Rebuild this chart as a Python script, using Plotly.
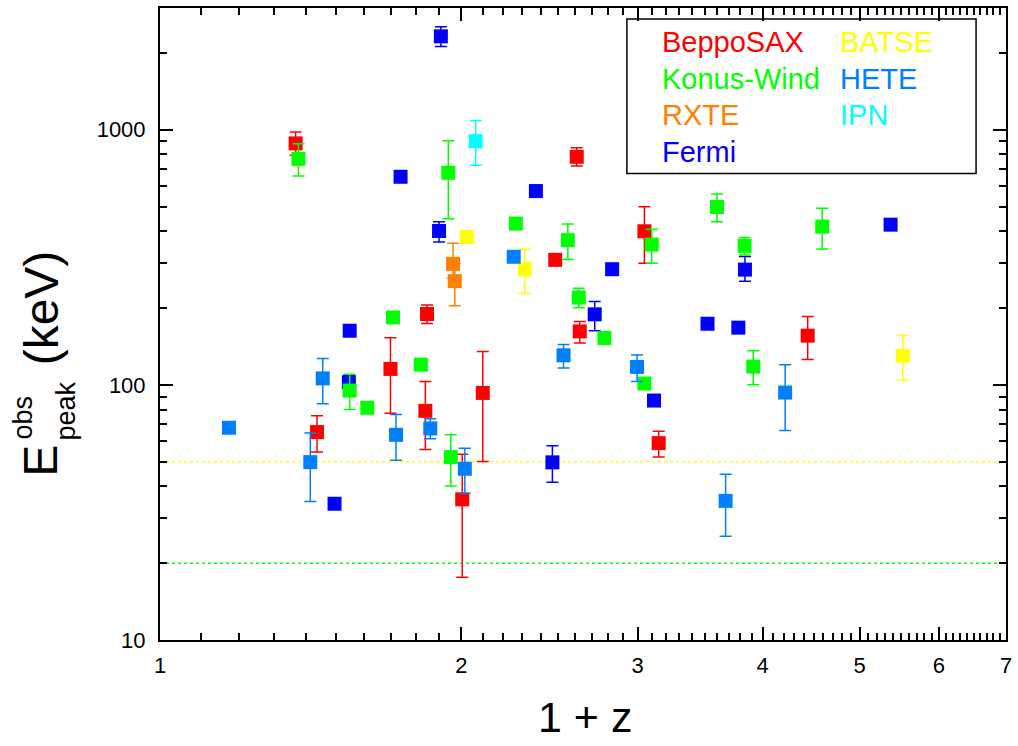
import numpy as np
import plotly.graph_objects as go

# ---------------- data (1+z, Epeak_obs [keV], upper bound, lower bound) ----------------
sax_x  = [1.366, 1.435, 1.699, 1.848, 1.841, 2.004, 2.101, 2.482, 2.608, 2.626, 3.047, 3.149, 4.436]
sax_e  = [884, 65.3, 115.5, 189.6, 79.1, 35.6, 93, 309, 783, 162, 400, 59.1, 155.9]
sax_hi = [979, 75.6, 153, 205.5, 103, 53.5, 135, None, 849, 177, 499, 65.8, 185.5]
sax_lo = [794, 54.5, 77.4, 174, 55.8, 17.6, 50.1, None, 721, 146, 300, 52.1, 125.6]

kw_x  = [1.375, 1.547, 1.611, 1.709, 1.822, 1.941, 1.952, 2.267, 2.555, 2.620, 2.779, 3.047, 3.099, 3.601, 3.837, 3.914, 4.587]
kw_e  = [769, 95, 81.3, 183.8, 120, 678, 52.1, 428.6, 369, 220, 152.7, 101.2, 354.7, 498, 350.6, 118, 417]
kw_hi = [881, 110, None, None, None, 905, 63.7, None, 427, 239, None, None, 407, 560, 378, 136, 492]
kw_lo = [658, 80.1, None, None, None, 448, 40.1, None, 310, 200.6, None, None, 300, 436, 323, 100, 341]

rxte_x  = [1.962, 1.970]
rxte_e  = [298, 255]
rxte_hi = [359, 300]
rxte_lo = [262, 204]

fermi_x  = [1.547, 1.544, 1.494, 1.739, 1.900, 1.908, 2.374, 2.466, 2.829, 2.718, 3.115, 3.523, 3.782, 3.840, 5.368]
fermi_e  = [163, 102.4, 34.2, 654, 401, 2323, 575, 49.7, 284, 189, 86.8, 173.6, 167.6, 283, 424.6]
fermi_hi = [None, 108.7, None, 680, 436, 2535, None, 57.7, None, 212, None, 180, None, 318.5, None]
fermi_lo = [None, 94, None, 630, 363, 2118, None, 41.5, None, 163, None, 166, None, 255, None]

batse_x  = [2.025, 2.314, 5.521]
batse_e  = [380, 284, 130]
batse_hi = [None, 340, 156]
batse_lo = [None, 228, 104.6]

hete_x  = [1.172, 1.413, 1.454, 1.721, 1.862, 2.016, 2.256, 2.530, 2.996, 3.673, 4.212]
hete_e  = [67.9, 49.8, 106, 63.7, 67.5, 46.9, 317.7, 130.6, 117.6, 35.1, 93.3]
hete_hi = [None, 64.7, 127, 76.5, 73.6, 56.4, None, 144, 131, 44.6, 120]
hete_lo = [None, 34.9, 84.3, 50.7, 61.5, 37.5, None, 116.5, 103, 25.5, 66.3]

ipn_x  = [2.067]
ipn_e  = [902]
ipn_hi = [1088]
ipn_lo = [725]

threshold_values = [50, 20]
threshold_colors = ["#FFFF00", "#00FF00"]

x_tick_labels = ["1", "2", "3", "4", "5", "6", "7"]
y_tick_labels = ["10", "100", "1000"]

series = [
    ("BeppoSAX",   "#FF0000", sax_x, sax_e, sax_hi, sax_lo),
    ("Fermi",      "#0000FF", fermi_x, fermi_e, fermi_hi, fermi_lo),
    ("Konus-Wind", "#00FF00", kw_x, kw_e, kw_hi, kw_lo),
    ("RXTE",       "#FF8000", rxte_x, rxte_e, rxte_hi, rxte_lo),
    ("BATSE",      "#FFFF00", batse_x, batse_e, batse_hi, batse_lo),
    ("HETE",       "#0080FF", hete_x, hete_e, hete_hi, hete_lo),
    ("IPN",        "#00FFFF", ipn_x, ipn_e, ipn_hi, ipn_lo),
]

# ---------------- figure ----------------
W, H = 1018, 746
ML, MR, MT, MB = 160, 10, 6, 106
PW, PH = W - ML - MR, H - MT - MB

def px(xp):
    return (xp - ML) / PW

def py(yp):
    return (H - MB - yp) / PH

fig = go.Figure()

for val, col in zip(threshold_values, threshold_colors):
    fig.add_trace(go.Scatter(x=[1, 7], y=[val, val], mode="lines",
                             line=dict(color=col, width=1.5, dash="dot"),
                             showlegend=False, hoverinfo="skip"))

for name, col, xs, es, his, los in series:
    plus = [None if h is None else h - e for h, e in zip(his, es)]
    minus = [None if l is None else e - l for l, e in zip(los, es)]
    fig.add_trace(go.Scatter(
        x=xs, y=es, mode="markers", name=name,
        marker=dict(symbol="square", size=14, color=col, line=dict(width=0)),
        error_y=dict(type="data", symmetric=False, array=plus, arrayminus=minus,
                     color=col, thickness=1.5, width=6),
        showlegend=False))

x_minor = [round(v, 1) for v in np.arange(1.1, 7.0, 0.1) if abs(v - round(v)) > 1e-6]
y_minor = [m * d for d in (10, 100) for m in range(2, 10)] + [2000]

axis_common = dict(showline=True, linecolor="black", linewidth=2, mirror="allticks",
                   ticks="inside", ticklen=13, tickwidth=2, tickcolor="black",
                   showgrid=False, zeroline=False,
                   tickfont=dict(family="Liberation Sans, Arial, sans-serif", size=22, color="black"))

fig.update_xaxes(type="log", range=[0, np.log10(7)], tickmode="array",
                 tickvals=[int(t) for t in x_tick_labels], ticktext=x_tick_labels,
                 ticklabelstandoff=5,
                 minor=dict(tickmode="array", tickvals=x_minor, ticks="inside",
                            ticklen=7, tickwidth=1.5, tickcolor="black", showgrid=False),
                 **axis_common)
fig.update_yaxes(type="log", range=[1, np.log10(3000)], tickmode="array",
                 tickvals=[int(t) for t in y_tick_labels], ticktext=y_tick_labels,
                 ticklabelstandoff=8,
                 minor=dict(tickmode="array", tickvals=y_minor, ticks="inside",
                            ticklen=7, tickwidth=1.5, tickcolor="black", showgrid=False),
                 **axis_common)

FONT = "Liberation Sans, Arial, sans-serif"
ann = []
# axis titles
ann.append(dict(text="1 + z", x=px(586), y=py(717), xref="paper", yref="paper",
                xanchor="center", yanchor="middle", showarrow=False,
                font=dict(family=FONT, size=43, color="black")))
ann.append(dict(text="E", x=px(40), y=py(460), xref="paper", yref="paper",
                xanchor="center", yanchor="middle", showarrow=False, textangle=-90,
                font=dict(family=FONT, size=48, color="black")))
ann.append(dict(text="obs", x=px(22.5), y=py(417), xref="paper", yref="paper",
                xanchor="center", yanchor="middle", showarrow=False, textangle=-90,
                font=dict(family=FONT, size=27, color="black")))
ann.append(dict(text="peak", x=px(65.5), y=py(410), xref="paper", yref="paper",
                xanchor="center", yanchor="middle", showarrow=False, textangle=-90,
                font=dict(family=FONT, size=27, color="black")))
ann.append(dict(text="(keV)", x=px(41), y=py(307), xref="paper", yref="paper",
                xanchor="center", yanchor="middle", showarrow=False, textangle=-90,
                font=dict(family=FONT, size=48, color="black")))

# legend (text-only, coloured)
legend_layout = [("BeppoSAX", 661, 40), ("Konus-Wind", 661, 77), ("RXTE", 661, 113),
                 ("Fermi", 661, 150), ("BATSE", 840, 40), ("HETE", 840, 77), ("IPN", 840, 113)]
colmap = {s[0]: s[1] for s in series}
for name, lx, ly in legend_layout:
    ann.append(dict(text=name, x=px(lx), y=py(ly), xref="paper", yref="paper",
                    xanchor="left", yanchor="middle", showarrow=False,
                    font=dict(family=FONT, size=29, color=colmap[name])))

fig.update_layout(
    width=W, height=H, margin=dict(l=ML, r=MR, t=MT, b=MB),
    paper_bgcolor="white", plot_bgcolor="white",
    annotations=ann,
    shapes=[dict(type="rect", xref="paper", yref="paper",
                 x0=px(628), x1=px(978), y0=py(172), y1=py(17),
                 line=dict(color="black", width=1.5), fillcolor="rgba(0,0,0,0)")],
    showlegend=False,
)

fig.write_html("out.html", include_plotlyjs=True, config={"displayModeBar": False},
               post_script="document.body.style.margin='0';document.body.style.padding='0';")
